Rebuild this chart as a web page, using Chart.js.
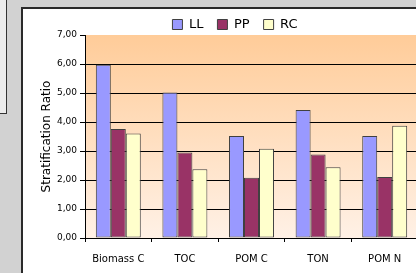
<!DOCTYPE html>
<html>
<head>
<meta charset="utf-8">
<script src="https://cdn.jsdelivr.net/npm/chart.js@4/dist/chart.umd.min.js"></script>
<style>
  html, body { margin: 0; padding: 0; overflow: hidden; width: 416px; height: 273px; }
  body { background: #d2d2d2; position: relative; }
  #corner { position: absolute; left: -2px; top: -2px; width: 8px; height: 115px; background: #ececec; border-right: 1px solid #333; border-bottom: 1px solid #333; }
  #frame { position: absolute; left: 21px; top: 7px; width: 500px; height: 400px; background: #fff; border-left: 2px solid #2a2a2a; border-top: 2px solid #2a2a2a; }
  #chart { position: absolute; left: 0; top: 0; }
</style>
</head>
<body>
<div id="corner"></div>
<div id="frame"></div>
<canvas id="chart" width="420" height="273"></canvas>
<script>
// Stratification ratio chart
// ------------------------------
var categories = ["Biomass C", "TOC", "POM C", "TON", "POM N"];
var seriesNames = ["LL", "PP", "RC"];
var llValues = [5.97, 5.02, 3.52, 4.41, 3.52];
var ppValues = [3.76, 2.95, 2.08, 2.88, 2.10];
var rcValues = [3.60, 2.37, 3.08, 2.44, 3.87];
var yTickLabels = ["0,00", "1,00", "2,00", "3,00", "4,00", "5,00", "6,00", "7,00"];

var font = "'DejaVu Sans', sans-serif";

// plot area gradient, peach at top fading down
var plotBackground = {
    id: "plotBackground",
    beforeDraw: function(chart) {
        var a = chart.chartArea;
        var c = chart.ctx;
        var g = c.createLinearGradient(0, a.top, 0, a.bottom);
        g.addColorStop(0, "#FFCC99");
        g.addColorStop(1, "#FFF1E6");
        c.save();
        c.fillStyle = g;
        c.fillRect(a.left, a.top, a.right - a.left, a.bottom - a.top);
        c.restore();
    }
};

var chartData = {
    labels: categories,
    datasets: [
        { label: seriesNames[0], data: llValues, backgroundColor: "#9999FF" },
        { label: seriesNames[1], data: ppValues, backgroundColor: "#993366" },
        { label: seriesNames[2], data: rcValues, backgroundColor: "#FFFFCC" }
    ]
};
chartData.datasets.forEach(function(d) {
    d.borderColor = "#404040";
    d.borderWidth = 1;
    d.borderSkipped = false;
    d.categoryPercentage = 0.675;
    d.barPercentage = 1;
});

var chartOptions = {
    responsive: false,
    animation: false,
    layout: { padding: { left: 52, right: 2, top: 4, bottom: 0 } },
    plugins: {
        tooltip: { enabled: false },
        legend: {
            position: "top",
            align: "center",
            maxHeight: 31,
            labels: {
                boxWidth: 10,
                boxHeight: 10,
                padding: 14,
                color: "#000",
                font: { family: font, size: 13 }
            }
        }
    },
    scales: {
        x: {
            afterFit: function(s) { s.height = 35; },
            grid: { drawOnChartArea: false, color: "#000", tickLength: 4 },
            border: { color: "#000" },
            ticks: { color: "#000", padding: 11, maxRotation: 0, font: { family: font, size: 10 } }
        },
        y: {
            min: 0,
            max: 7,
            afterFit: function(s) { s.width = 33; },
            grid: {
                color: function(ctx) { return ctx.tick && ctx.tick.value === 7 ? "rgba(0,0,0,0)" : "#000"; },
                tickColor: "#000",
                tickLength: 5
            },
            border: { color: "#000" },
            ticks: {
                stepSize: 1,
                padding: 3,
                color: "#000",
                font: { family: font, size: 9 },
                callback: function(v, i) { return yTickLabels[i]; }
            },
            title: {
                display: true,
                text: "Stratification Ratio",
                color: "#000",
                padding: { top: -12, bottom: 0 },
                font: { family: font, size: 12 }
            }
        }
    }
};

var ctx = document.getElementById("chart");
var stratChart = new Chart(ctx, {
    type: "bar",
    data: chartData,
    options: chartOptions,
    plugins: [plotBackground]
});
</script>
</body>
</html>
